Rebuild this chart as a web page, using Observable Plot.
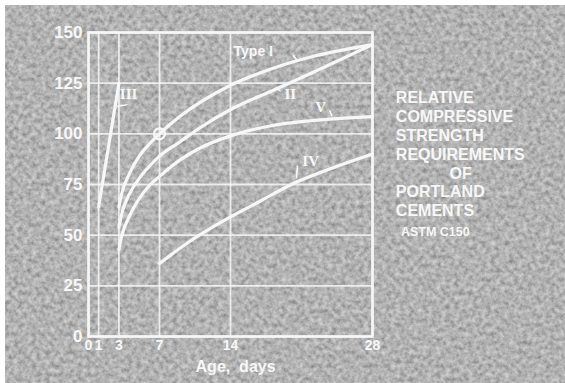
<!DOCTYPE html>
<html>
<head>
<meta charset="utf-8">
<script src="https://cdn.jsdelivr.net/npm/d3@7"></script>
<script src="https://cdn.jsdelivr.net/npm/@observablehq/plot@0.6"></script>
<style>
  html, body { margin: 0; padding: 0; background: #ffffff; }
  #wrap { position: relative; width: 565px; height: 383px; overflow: hidden; background: #ffffff; }
  #bg { position: absolute; left: 5px; top: 5px; width: 560px; height: 378px; background: #737373; }
  #bg svg { display: block; }
  #chart { position: absolute; left: 0; top: 0; }
  #chart svg { background: transparent !important; }
</style>
</head>
<body>
<div id="wrap">
  <div id="bg">
    <svg width="560" height="378">
      <filter id="grain" x="0" y="0" width="100%" height="100%">
        <feTurbulence type="fractalNoise" baseFrequency="0.22" numOctaves="3" seed="7"/>
        <feColorMatrix type="matrix" values="0.55 0 0 0 0.17  0.55 0 0 0 0.17  0.55 0 0 0 0.17  0 0 0 0 1"/>
      </filter>
      <rect width="560" height="378" filter="url(#grain)"/>
    </svg>
  </div>
  <div id="chart"></div>
</div>
<script>
// ---- data (relative strength, Type I at 7 days = 100) ----
const dayTicks = [0, 1, 3, 7, 14, 28];
const strengthTicks = [0, 25, 50, 75, 100, 125, 150];

const typeIIIDays   = [1, 3];
const typeIIIValues = [64, 125];

const typeIDays   = [3, 3.3, 4, 5, 6, 7, 9, 11, 14, 18, 22, 28];
const typeIValues = [64, 71, 80, 89, 95, 100, 108.5, 115.5, 124, 132, 138, 144];

const typeIIDays   = [3, 3.3, 4, 5, 6, 7, 9, 11, 14, 18, 22, 28];
const typeIIValues = [54, 61, 70, 78, 84, 89, 96, 103, 112, 121, 130, 144];

const typeVDays   = [3, 3.3, 4, 5, 6, 7, 9, 11, 14, 18, 22, 28];
const typeVValues = [43, 50, 59, 68, 74.5, 79, 87, 93, 99, 104, 106.5, 108.5];

const typeIVDays   = [7, 10, 14, 17, 20, 24, 28];
const typeIVValues = [36, 47, 59, 67, 75, 83, 90];

const markerDays = [7];
const markerValues = [100];

const seriesNames = ["III", "Type I", "II", "V", "IV"];
const titleLines = ["RELATIVE", "COMPRESSIVE", "STRENGTH", "REQUIREMENTS"];
const titleOf = "OF";
const titleLines2 = ["PORTLAND", "CEMENTS"];
const titleSource = "ASTM C150";
const xLabel = "Age,  days";

// ---- build tables ----
const toRows = (name, xs, ys) => xs.map((d, i) => ({series: name, day: d, value: ys[i]}));
const curves = [
  toRows("III", typeIIIDays, typeIIIValues),
  toRows("Type I", typeIDays, typeIValues),
  toRows("II", typeIIDays, typeIIValues),
  toRows("V", typeVDays, typeVValues),
  toRows("IV", typeIVDays, typeIVValues)
];
const markers = markerDays.map((d, i) => ({day: d, value: markerValues[i]}));

// label placement (data units)
const labels = [
  {text: seriesNames[0], day: 3.95, value: 119.5, font: "Liberation Serif", weight: "bold", size: 15, anchor: "middle"},
  {text: seriesNames[1], day: 14.3, value: 140.5, font: "Liberation Sans", weight: "bold", size: 14, anchor: "start"},
  {text: seriesNames[2], day: 19.9, value: 119.5, font: "Liberation Serif", weight: "bold", size: 15, anchor: "middle"},
  {text: seriesNames[3], day: 22.9, value: 113, font: "Liberation Serif", weight: "bold", size: 15, anchor: "middle"},
  {text: seriesNames[4], day: 21.9, value: 86.5, font: "Liberation Serif", weight: "bold", size: 15, anchor: "middle"}
];
const leaders = [
  {x1: 3.85, y1: 114.5, x2: 2.75, y2: 113.5},
  {x1: 20.2, y1: 139, x2: 20.6, y2: 135.8},
  {x1: 18.9, y1: 121, x2: 18.5, y2: 122.8},
  {x1: 23.8, y1: 111.5, x2: 24.0, y2: 108.5},
  {x1: 20.6, y1: 84.5, x2: 20.5, y2: 78}
];

const white = "#f7f7f7";
const x0 = 30.3;

const plot = Plot.plot({
  width: 565,
  height: 383,
  marginLeft: 88,
  marginRight: 193,
  marginTop: 32,
  marginBottom: 47,
  style: {background: "transparent", color: white, fontFamily: "Liberation Sans"},
  x: {domain: [0, 28], ticks: dayTicks},
  y: {domain: [0, 150], ticks: strengthTicks},
  marks: [
    Plot.gridX(dayTicks, {stroke: white, strokeOpacity: 0.85, strokeWidth: 1.8}),
    Plot.gridY(strengthTicks, {stroke: white, strokeOpacity: 0.85, strokeWidth: 1.8}),
    Plot.frame({stroke: white, strokeWidth: 2.6}),
    Plot.axisY(strengthTicks, {tickSize: 0, tickPadding: 6, fontSize: 17, fontWeight: "bold", fill: white, label: null}),
    Plot.axisX(dayTicks, {tickSize: 0, tickPadding: 4, fontSize: 14, fontWeight: "bold", fill: white, label: null}),
    ...curves.map(rows => Plot.line(rows, {x: "day", y: "value", stroke: white, strokeWidth: 3.2, curve: "monotone-x"})),
    Plot.dot(markers, {x: "day", y: "value", r: 5.5, stroke: white, strokeWidth: 2.4, fill: "none"}),
    Plot.link(leaders, {x1: "x1", y1: "y1", x2: "x2", y2: "y2", stroke: white, strokeWidth: 1.6, curve: "bump-y"}),
    ...labels.map(l => Plot.text([l], {x: "day", y: "value", text: "text", fill: white, fontSize: l.size, fontFamily: l.font, fontWeight: l.weight, textAnchor: l.anchor})),
    Plot.text([xLabel], {x: 14.5, y: -15, text: d => d, fill: white, fontSize: 16, fontWeight: "bold"}),
    Plot.text(titleLines, {x: x0, y: (d, i) => 117.5 - i * 9.3, text: d => d, fill: white, fontSize: 16, fontWeight: "bold", textAnchor: "start"}),
    Plot.text([titleOf], {x: 35.6, y: 80.2, text: d => d, fill: white, fontSize: 16, fontWeight: "bold", textAnchor: "start"}),
    Plot.text(titleLines2, {x: x0, y: (d, i) => 71.4 - i * 9.3, text: d => d, fill: white, fontSize: 16, fontWeight: "bold", textAnchor: "start"}),
    Plot.text([titleSource], {x: 30.8, y: 51.8, text: d => d, fill: white, fontSize: 12.5, fontWeight: "bold", textAnchor: "start"})
  ]
});
document.getElementById("chart").appendChild(plot);
</script>
</body>
</html>
